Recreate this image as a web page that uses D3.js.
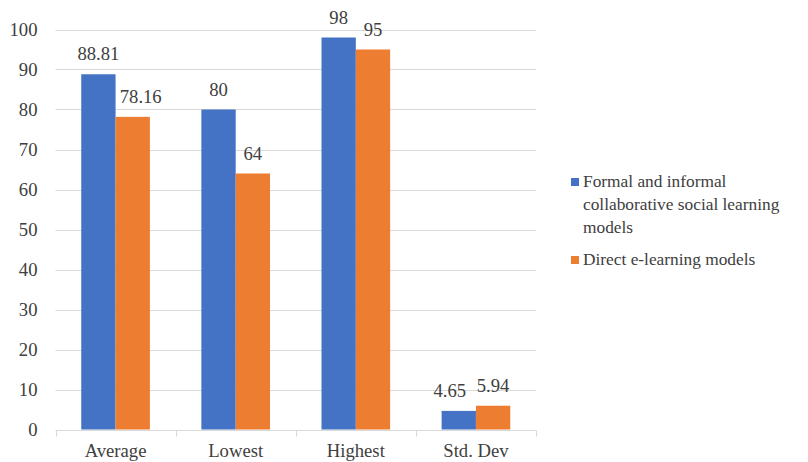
<!DOCTYPE html>
<html>
<head>
<meta charset="utf-8">
<script src="https://cdn.jsdelivr.net/npm/d3@7"></script>
<style>
  html, body { margin: 0; padding: 0; background: #fff; }
  svg text { font-family: "Liberation Serif", "Times New Roman", "DejaVu Serif", serif; }
</style>
</head>
<body>
<svg id="chart" width="808" height="462"></svg>
<script>
// Score summary for the two groups of learning models
const categories = ["Average", "Lowest", "Highest", "Std. Dev"];
const seriesNames = [
  "Formal and informal collaborative social learning models",
  "Direct e-learning models"
];
const collaborativeValues = [88.81, 80, 98, 4.65];
const directValues = [78.16, 64, 95, 5.94];
const yTicks = [0, 10, 20, 30, 40, 50, 60, 70, 80, 90, 100];
const legendLines = [
  ["Formal and informal", "collaborative social learning", "models"],
  ["Direct e-learning models"]
];
// Horizontal nudges for labels that would otherwise crowd their neighbours
const labelShift = { "Average-1": 8, "Std. Dev-0": -9 };

const colors = ["#4472C4", "#ED7D31"];
const textColor = "#404040";
const gridColor = "#d9d9d9";
const fontFamily = "'Liberation Serif', 'Times New Roman', 'DejaVu Serif', serif";
const axisFont = 18.67;
const legendFont = 17.33;

const svg = d3.select("#chart");
const margin = { left: 55.5, right: 272, top: 29.5, bottom: 32.5 };
const W = 808, H = 462;

const x = d3.scaleBand()
  .domain(categories)
  .range([margin.left, W - margin.right])
  .paddingInner(0)
  .paddingOuter(0);

const inner = d3.scaleBand()
  .domain([0, 1])
  .range([0, x.bandwidth()])
  .paddingInner(0)
  .paddingOuter(0.75);

const y = d3.scaleLinear()
  .domain([0, 100])
  .range([H - margin.bottom, margin.top]);

// Horizontal gridlines
svg.append("g")
  .selectAll("line")
  .data(yTicks.filter(d => d > 0))
  .join("line")
  .attr("x1", margin.left)
  .attr("x2", W - margin.right)
  .attr("y1", d => Math.round(y(d)) + 0.5)
  .attr("y2", d => Math.round(y(d)) + 0.5)
  .attr("stroke", gridColor)
  .attr("stroke-width", 1);

// Y axis labels
const yAxis = svg.append("g")
  .attr("transform", `translate(${margin.left},0)`)
  .call(d3.axisLeft(y).tickValues(yTicks).tickSize(0).tickPadding(18));
yAxis.attr("font-family", fontFamily).attr("font-size", axisFont);
yAxis.select(".domain").remove();
yAxis.selectAll("text")
  .style("font-family", fontFamily)
  .attr("font-size", axisFont)
  .attr("fill", textColor);

// Bars
const data = categories.map((c, i) => ({
  category: c,
  values: [collaborativeValues[i], directValues[i]]
}));

const groups = svg.append("g")
  .selectAll("g")
  .data(data)
  .join("g")
  .attr("transform", d => `translate(${x(d.category)},0)`);

groups.selectAll("rect")
  .data(d => d.values.map((v, s) => ({ v, s })))
  .join("rect")
  .attr("x", d => inner(d.s))
  .attr("width", inner.bandwidth())
  .attr("y", d => y(d.v))
  .attr("height", d => y(0) - y(d.v))
  .attr("fill", d => colors[d.s]);

// Value labels above bars
groups.selectAll("text")
  .data(d => d.values.map((v, s) => ({ v, s, c: d.category })))
  .join("text")
  .attr("x", d => inner(d.s) + inner.bandwidth() / 2 + (labelShift[`${d.c}-${d.s}`] || 0))
  .attr("y", d => y(d.v) - 14)
  .attr("text-anchor", "middle")
  .style("font-family", fontFamily)
  .attr("font-size", axisFont)
  .attr("fill", textColor)
  .text(d => d.v);

// X axis: baseline, ticks between categories and labels
const baseY = Math.round(y(0)) + 0.5;
svg.append("line")
  .attr("x1", margin.left).attr("x2", W - margin.right)
  .attr("y1", baseY).attr("y2", baseY)
  .attr("stroke", gridColor);

const boundaries = categories.map(c => x(c)).concat([x(categories[categories.length - 1]) + x.bandwidth()]);
svg.append("g")
  .selectAll("line")
  .data(boundaries)
  .join("line")
  .attr("x1", d => Math.round(d) + 0.5)
  .attr("x2", d => Math.round(d) + 0.5)
  .attr("y1", baseY)
  .attr("y2", baseY + 6)
  .attr("stroke", gridColor);

svg.append("g")
  .selectAll("text")
  .data(categories)
  .join("text")
  .attr("x", d => x(d) + x.bandwidth() / 2)
  .attr("y", 457)
  .attr("text-anchor", "middle")
  .style("font-family", fontFamily)
  .attr("font-size", axisFont)
  .attr("fill", textColor)
  .text(d => d);

// Legend
const legendTop = [187, 265];
const legend = svg.append("g");
legendLines.forEach((lines, i) => {
  legend.append("rect")
    .attr("x", 571)
    .attr("y", legendTop[i] - 9)
    .attr("width", 8)
    .attr("height", 8)
    .attr("fill", colors[i]);
  const t = legend.append("text")
    .style("font-family", fontFamily)
    .attr("font-size", legendFont)
    .attr("fill", textColor);
  t.append("title").text(seriesNames[i]);
  lines.forEach((ln, k) => {
    t.append("tspan")
      .attr("x", 583)
      .attr("y", legendTop[i] + k * 23)
      .text(ln);
  });
});
</script>
</body>
</html>
